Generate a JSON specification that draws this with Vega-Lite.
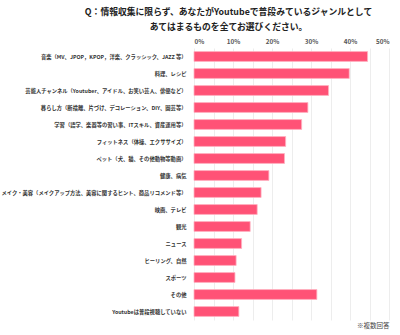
{
  "$schema": "https://vega.github.io/schema/vega-lite/v6.json",
  "width": 195,
  "height": 272,
  "autosize": "none",
  "padding": {"left": 194, "top": 48, "right": 11, "bottom": 15},
  "background": "white",
  "title": {
    "text": ["Q：情報収集に限らず、あなたがYoutubeで普段みているジャンルとして", "あてはまるものを全てお選びください。"],
    "anchor": "middle",
    "dx": -63,
    "offset": 6,
    "font": "Noto Sans CJK JP",
    "fontSize": 8.8,
    "fontWeight": "bold",
    "color": "#222",
    "lineHeight": 15
  },
  "config": {
    "view": {"stroke": null},
    "font": "Noto Sans CJK JP"
  },
  "data": {
    "values": [
      {"genre": "音楽（MV、JPOP，KPOP，洋楽、クラッシック、JAZZ 等）", "pct": 0.445},
      {"genre": "料理、レシピ", "pct": 0.398},
      {"genre": "芸能人チャンネル（Youtuber、アイドル、お笑い芸人、俳優など）", "pct": 0.345},
      {"genre": "暮らし方（断捨離、片づけ、デコレーション、DIY、園芸等）", "pct": 0.292},
      {"genre": "学習（語学、楽器等の習い事、ITスキル、資産運用等）", "pct": 0.276},
      {"genre": "フィットネス（体操、エクササイズ）", "pct": 0.235},
      {"genre": "ペット（犬、猫、その他動物等動画）", "pct": 0.232},
      {"genre": "健康、病気", "pct": 0.192},
      {"genre": "メイク・美容（メイクアップ方法、美容に関するヒント、商品リコメンド等）", "pct": 0.172},
      {"genre": "映画、テレビ", "pct": 0.162},
      {"genre": "観光", "pct": 0.144},
      {"genre": "ニュース", "pct": 0.122},
      {"genre": "ヒーリング、自然", "pct": 0.108},
      {"genre": "スポーツ", "pct": 0.105},
      {"genre": "その他", "pct": 0.315},
      {"genre": "Youtubeは普段視聴していない", "pct": 0.115}
    ]
  },
  "encoding": {
    "y": {
      "field": "genre",
      "type": "nominal",
      "sort": null,
      "scale": {"paddingInner": 0.42, "paddingOuter": 0.21},
      "axis": {
        "title": null,
        "ticks": false,
        "domain": false,
        "labelPadding": 8,
        "labelFontSize": 5.3,
        "labelFontWeight": "bold",
        "labelColor": "#333",
        "labelLimit": 200
      }
    }
  },
  "layer": [
    {
      "mark": {"type": "bar", "color": "#ff5276", "stroke": "#ffb3c2", "strokeWidth": 0.8},
      "encoding": {
        "x": {
          "field": "pct",
          "type": "quantitative",
          "scale": {"domain": [0, 0.5], "nice": false},
          "axis": {
            "orient": "top",
            "title": null,
            "format": ".0%",
            "values": [0, 0.05, 0.1, 0.15, 0.2, 0.25, 0.3, 0.35, 0.4, 0.45, 0.5],
            "ticks": false,
            "domain": false,
            "grid": true,
            "gridColor": "#e8e8e8",
            "gridWidth": 0.8,
            "labelFontSize": 6.3,
            "labelFontWeight": "bold",
            "labelColor": "#555",
            "labelPadding": 4
          }
        }
      }
    },
    {
      "mark": {"type": "bar", "opacity": 0},
      "encoding": {
        "x": {
          "field": "pct",
          "type": "quantitative",
          "scale": {"domain": [0, 0.5], "nice": false},
          "axis": {
            "orient": "bottom",
            "title": "※複数回答",
            "labels": false,
            "ticks": false,
            "domain": false,
            "grid": false,
            "titleAnchor": "end",
            "titleAlign": "right",
            "titlePadding": 2,
            "titleFontSize": 6.5,
            "titleFontWeight": "normal",
            "titleColor": "#444"
          }
        }
      }
    }
  ],
  "resolve": {"axis": {"x": "independent"}}
}
